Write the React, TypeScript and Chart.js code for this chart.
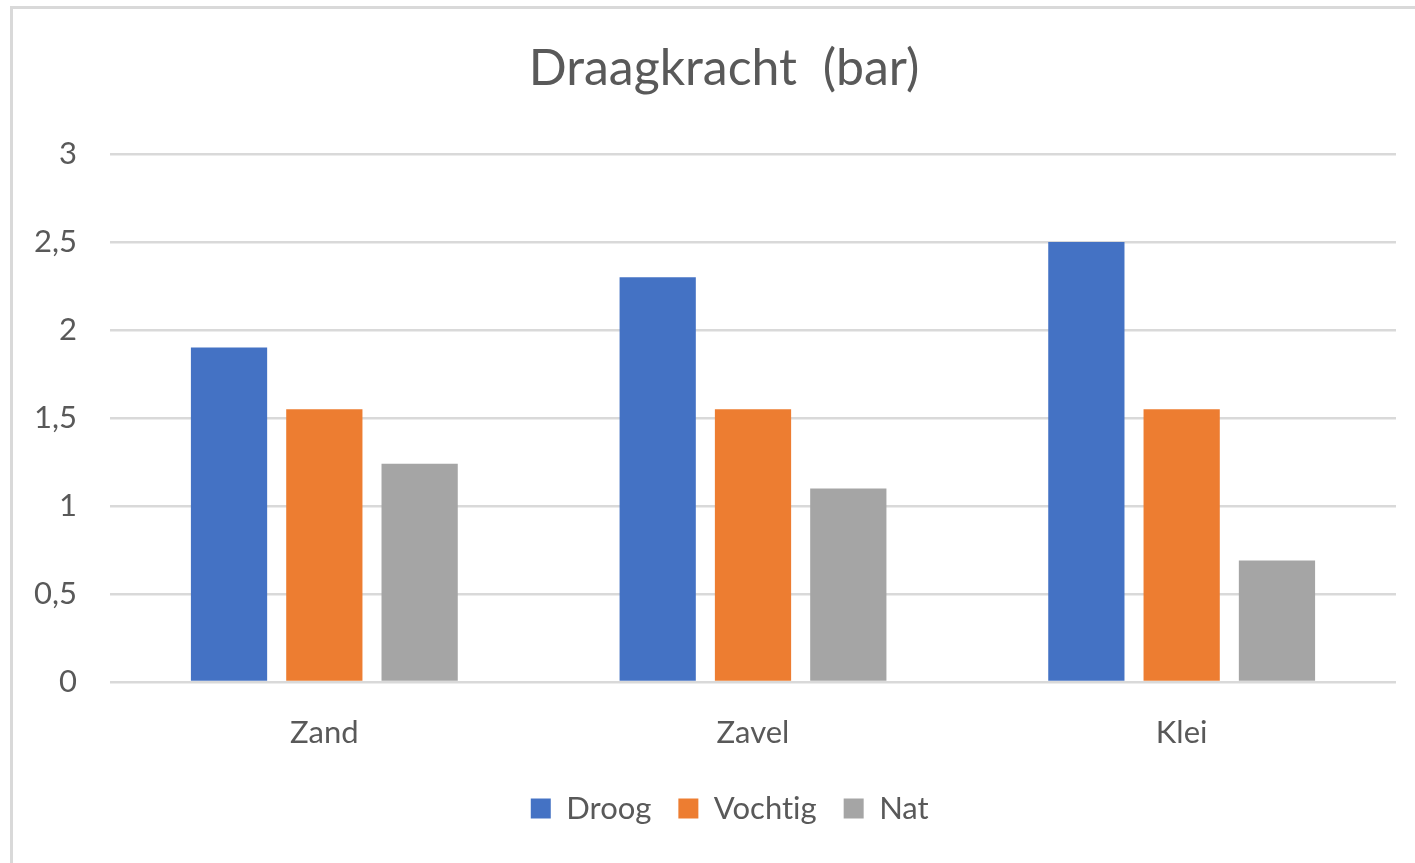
import React, { useEffect, useRef } from "react";
import { Chart, registerables } from "chart.js";

Chart.register(...registerables);

const categories = ["Zand", "Zavel", "Klei"];
const droog = [1.9, 2.3, 2.5];
const vochtig = [1.55, 1.55, 1.55];
const nat = [1.24, 1.1, 0.69];
const titleText = "Draagkracht  (bar)";
const seriesNames = ["Droog", "Vochtig", "Nat"];
const seriesColors = ["#4472C4", "#ED7D31", "#A5A5A5"];

const FONT = "Lato";
const TEXT = "#595959";

const shiftPlugin = {
  id: "shiftBoxes",
  afterLayout(chart: any) {
    if (chart.titleBlock) {
      chart.titleBlock.left += 26;
      chart.titleBlock.right += 26;
    }
    if (chart.legend) {
      chart.legend.left += 32;
      chart.legend.right += 32;
    }
  },
  beforeDraw(chart: any) {
    const c = chart.ctx as any;
    try {
      c.textRendering = "optimizeSpeed";
    } catch (e) {}
  },
};

export default function App() {
  const ref = useRef<HTMLCanvasElement | null>(null);

  useEffect(() => {
    document.body.style.margin = "0";
    const ctx = ref.current!;
    const chart = new Chart(ctx, {
      type: "bar",
      data: {
        labels: categories,
        datasets: [droog, vochtig, nat].map((d, i) => ({
          label: seriesNames[i],
          data: d,
          backgroundColor: seriesColors[i],
          borderWidth: 0,
          categoryPercentage: 0.667,
          barPercentage: 0.8,
        })),
      },
      plugins: [shiftPlugin],
      options: {
        animation: false,
        responsive: false,
        maintainAspectRatio: false,
        layout: { padding: { left: 0, right: 19, top: 0, bottom: 29 } },
        plugins: {
          title: {
            display: true,
            text: titleText,
            color: TEXT,
            font: { family: FONT, size: 50, weight: "normal" },
            padding: { top: 39, bottom: 55 },
          },
          legend: {
            display: true,
            position: "bottom",
            labels: {
              color: TEXT,
              font: { family: FONT, size: 31 },
              boxWidth: 20,
              boxHeight: 20,
              padding: 27,
            },
          },
          tooltip: { enabled: false },
        },
        scales: {
          x: {
            grid: { display: false, drawTicks: false },
            border: { display: false },
            ticks: {
              color: TEXT,
              font: { family: FONT, size: 31 },
              padding: 32,
            },
            afterFit: (s: any) => {
              s.height = 84;
            },
          },
          y: {
            min: 0,
            max: 3,
            grid: { color: "#d9d9d9", lineWidth: 2.5, drawTicks: false },
            border: { display: false },
            ticks: {
              stepSize: 0.5,
              color: TEXT,
              font: { family: FONT, size: 31 },
              padding: 33,
              callback: (v: any) => String(v).replace(".", ","),
            },
            afterFit: (s: any) => {
              s.width = 110;
            },
          },
        },
      },
    });
    return () => chart.destroy();
  }, []);

  return (
    <div
      style={{
        position: "fixed",
        left: 0,
        top: 0,
        width: 1415,
        height: 863,
        overflow: "hidden",
        background: "#fff",
      }}
    >
      <div
        style={{
          position: "absolute",
          left: 10,
          top: 6,
          width: 1600,
          height: 1000,
          border: "3px solid #d9d9d9",
        }}
      />
      <canvas
        ref={ref}
        width={1415}
        height={863}
        style={{ position: "absolute", left: 0, top: 0, width: 1415, height: 863 }}
      />
    </div>
  );
}
